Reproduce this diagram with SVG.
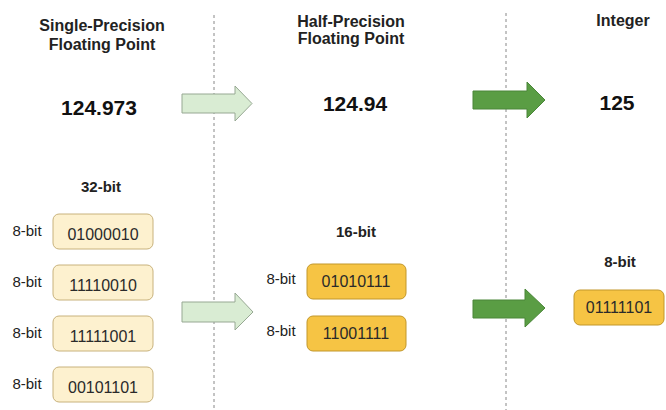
<svg xmlns="http://www.w3.org/2000/svg" width="666" height="410" viewBox="0 0 666 410">
<style>
.title{font-family:"Liberation Sans",Arial,sans-serif;font-weight:bold;font-size:16px;fill:#222;text-anchor:middle}
.num{font-family:"Liberation Sans",Arial,sans-serif;font-weight:bold;font-size:21px;fill:#111;text-anchor:middle}
.sub{font-family:"Liberation Sans",Arial,sans-serif;font-weight:bold;font-size:15px;fill:#222;text-anchor:middle}
.lbl{font-family:"Liberation Sans",Arial,sans-serif;font-size:15px;fill:#222;text-anchor:middle}
.bits{font-family:"Liberation Sans",Arial,sans-serif;font-size:16px;fill:#2a2a2a;text-anchor:middle}
.b32{fill:#fdf1cf;stroke:#c8b27c;stroke-width:1}
.b16{fill:#f6c444;stroke:#c2972a;stroke-width:1}
.div{stroke:#888;stroke-width:1;stroke-dasharray:3,3}
.la{fill:#d9ecd3;stroke:#97a893;stroke-width:1}
.da{fill:#5a9d44;stroke:#4a8638;stroke-width:1}
</style>
<rect width="666" height="410" fill="#fff"/>
<g id="dividers">
<line class="div" x1="214" y1="15" x2="214" y2="410"/>
<line class="div" x1="506" y1="13" x2="506" y2="410"/>
</g>
<g id="single">
<text class="title" x="102" y="31">Single-Precision</text>
<text class="title" x="102" y="50">Floating Point</text>
<text class="num" x="99" y="115">124.973</text>
</g>
<g id="half">
<text class="title" x="351" y="27">Half-Precision</text>
<text class="title" x="351" y="44">Floating Point</text>
<text class="num" x="355" y="111">124.94</text>
</g>
<g id="integer">
<text class="title" x="623" y="26">Integer</text>
<text class="num" x="617" y="110">125</text>
</g>
<g id="bits32">
<text class="sub" x="101" y="192">32-bit</text>
<g id="b32-1"><text class="lbl" x="27" y="236">8-bit</text><rect class="b32" x="53" y="214" width="100" height="35" rx="6"/><text class="bits" x="103" y="240">01000010</text></g>
<g id="b32-2"><text class="lbl" x="27" y="287">8-bit</text><rect class="b32" x="53" y="265" width="100" height="35" rx="6"/><text class="bits" x="103" y="291">11110010</text></g>
<g id="b32-3"><text class="lbl" x="27" y="338">8-bit</text><rect class="b32" x="53" y="316" width="100" height="35" rx="6"/><text class="bits" x="103" y="342">11111001</text></g>
<g id="b32-4"><text class="lbl" x="27" y="389">8-bit</text><rect class="b32" x="53" y="367" width="100" height="35" rx="6"/><text class="bits" x="103" y="393">00101101</text></g>
</g>
<g id="bits16">
<text class="sub" x="356" y="237">16-bit</text>
<g id="b16-1"><text class="lbl" x="281" y="284">8-bit</text><rect class="b16" x="307" y="264" width="99" height="35" rx="6"/><text class="bits" x="356" y="287">01010111</text></g>
<g id="b16-2"><text class="lbl" x="281" y="336">8-bit</text><rect class="b16" x="307" y="316" width="99" height="35" rx="6"/><text class="bits" x="356" y="339">11001111</text></g>
</g>
<g id="bits8">
<text class="sub" x="620" y="267">8-bit</text>
<rect class="b16" x="574" y="290" width="90" height="35" rx="6"/>
<text class="bits" x="619" y="313">01111101</text>
</g>
<g id="connectors">
<polygon class="la" points="182,94 235,94 235,86 252,103.5 235,121 235,113 182,113"/>
<polygon class="da" points="473,91 527,91 527,82 545,100 527,118 527,109 473,109"/>
<polygon class="la" points="182,302 235,302 235,293 253,312 235,330 235,322 182,322"/>
<polygon class="da" points="473,300 525,300 525,289 545,308 525,327 525,318 473,318"/>
</g>
</svg>
